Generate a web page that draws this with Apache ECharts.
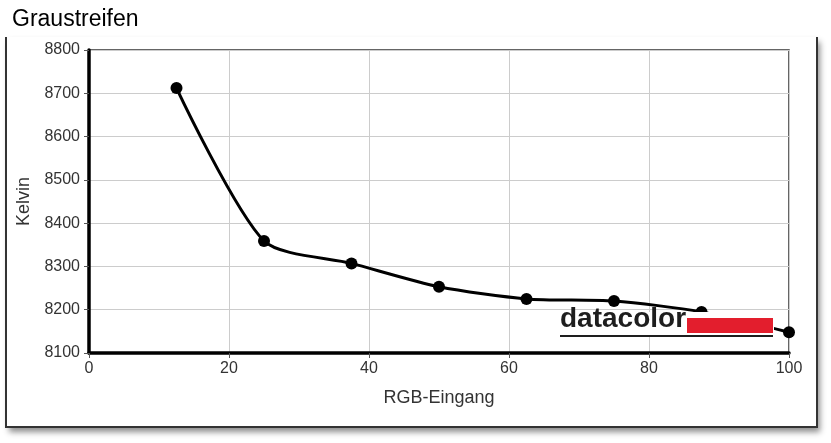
<!DOCTYPE html>
<html>
<head>
<meta charset="utf-8">
<script src="https://cdn.jsdelivr.net/npm/echarts@6/dist/echarts.min.js"></script>
<style>
  html, body { margin: 0; padding: 0; background: #fff; }
  #chart { width: 831px; height: 443px; }
</style>
</head>
<body>
<div id="chart"></div>
<script>
// RGB-Eingang (%) und gemessene Farbtemperatur
const rgbInput = [12.5, 25, 37.5, 50, 62.5, 75, 87.5, 100];
const kelvin = [8712, 8359, 8307, 8253, 8225, 8220, 8195, 8148];
const xTicks = [0, 20, 40, 60, 80, 100];
const yRange = [8100, 8800];

const chart = echarts.init(document.getElementById('chart'));
const font = 'Liberation Sans, Arial, sans-serif';

const option = {
  animation: false,
  textStyle: { fontFamily: font },
  title: {
    text: 'Graustreifen',
    left: 7, top: 3,
    textStyle: { fontSize: 23, fontWeight: 'normal', color: '#000', fontFamily: font }
  },
  grid: {
    left: 89, right: 42, top: 50, bottom: 90,
    show: true, borderColor: '#333', borderWidth: 1.5, backgroundColor: 'transparent'
  },
  xAxis: {
    type: 'value',
    min: xTicks[0], max: xTicks[xTicks.length - 1], interval: 20,
    name: 'RGB-Eingang', nameLocation: 'middle', nameGap: 36,
    nameTextStyle: { fontSize: 18, color: '#333' },
    axisLine: { show: true, lineStyle: { color: '#000', width: 3.5 } },
    axisTick: { show: true, length: 5, lineStyle: { color: '#555', width: 1 } },
    axisLabel: { fontSize: 16, color: '#333', margin: 8 },
    splitLine: { show: true, lineStyle: { color: '#ccc', width: 1 } }
  },
  yAxis: {
    type: 'value',
    min: yRange[0], max: yRange[1], interval: 100,
    name: 'Kelvin', nameLocation: 'middle', nameGap: 56,
    nameTextStyle: { fontSize: 18, color: '#333' },
    axisLine: { show: true, lineStyle: { color: '#000', width: 3.5 } },
    axisTick: { show: true, length: 5, lineStyle: { color: '#555', width: 1 } },
    axisLabel: { fontSize: 16, color: '#333', margin: 9, formatter: v => String(v) },
    splitLine: { show: true, lineStyle: { color: '#ccc', width: 1 } }
  },
  series: [{
    type: 'line',
    data: rgbInput.map((x, i) => [x, kelvin[i]]),
    smooth: 0.25,
    symbol: 'circle', symbolSize: 12,
    lineStyle: { color: '#000', width: 3 },
    itemStyle: { color: '#000' },
    z: 3
  }],
  graphic: [
    // Rahmen mit Schatten
    {
      type: 'rect', z: -10, silent: true,
      shape: { x: 6, y: 37, width: 811, height: 390 },
      style: { fill: '#fff', shadowBlur: 6, shadowOffsetX: 3, shadowOffsetY: 5, shadowColor: 'rgba(0,0,0,0.45)' }
    },
    {
      type: 'polyline', z: -9, silent: true,
      shape: { points: [[6, 37], [6, 427], [817, 427], [817, 37]] },
      style: { stroke: '#333', lineWidth: 2, fill: null }
    },
    // datacolor Logo
    {
      type: 'rect', z: 100, silent: true,
      shape: { x: 558, y: 312, width: 216, height: 25 },
      style: { fill: '#fff' }
    },
    {
      type: 'text', z: 101, silent: true,
      x: 560, y: 333,
      style: { text: 'datacolor', font: 'bold 28px ' + font, fill: '#1e1e1e', verticalAlign: 'bottom' }
    },
    {
      type: 'rect', z: 101, silent: true,
      shape: { x: 687, y: 318, width: 86, height: 15 },
      style: { fill: '#e31e2d' }
    },
    {
      type: 'line', z: 101, silent: true,
      shape: { x1: 560, y1: 336, x2: 773, y2: 336 },
      style: { stroke: '#1e1e1e', lineWidth: 2 }
    }
  ]
};

chart.setOption(option);
</script>
</body>
</html>
